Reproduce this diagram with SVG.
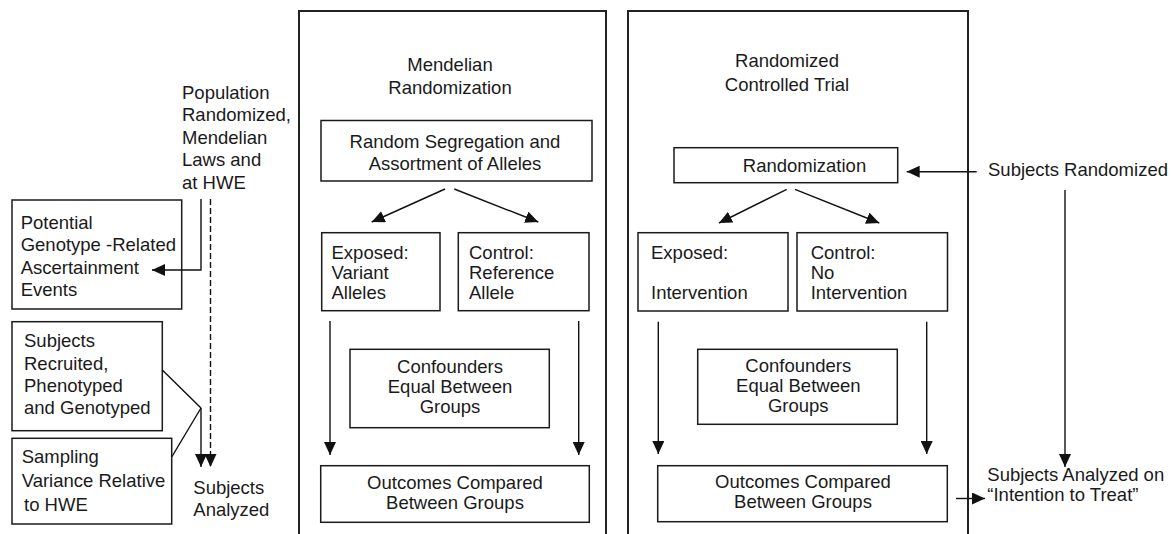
<svg xmlns="http://www.w3.org/2000/svg" width="1171" height="534" viewBox="0 0 1171 534">
<defs>
<style>
.panel{fill:none;stroke:#222;stroke-width:2}
.box{fill:#fff;stroke:#1a1a1a;stroke-width:1.5}
.t{font-family:"Liberation Sans",Arial,sans-serif;font-size:18.5px;fill:#1a1a1a}
.c{text-anchor:middle}
.ln{fill:none;stroke:#111;stroke-width:1.4}
.dash{stroke-dasharray:6 3}
</style>
<marker id="ah" markerWidth="13" markerHeight="12" refX="13" refY="6" orient="auto" markerUnits="userSpaceOnUse">
<path d="M0,0 L13,6 L0,12 z" fill="#111"/>
</marker>
</defs>
<rect width="1171" height="534" fill="#fff"/>

<g id="panel-mr">
<rect class="panel" x="299" y="11" width="307" height="540"/>
<text class="t c" x="450" y="71">Mendelian</text>
<text class="t c" x="450" y="94">Randomization</text>
</g>
<g id="panel-rct">
<rect class="panel" x="628" y="11" width="340" height="540"/>
<text class="t c" x="787" y="67">Randomized</text>
<text class="t c" x="787" y="91">Controlled Trial</text>
</g>

<g id="population-label">
<text class="t" x="182" y="98.5">Population</text>
<text class="t" x="182" y="121">Randomized,</text>
<text class="t" x="182" y="143.5">Mendelian</text>
<text class="t" x="182" y="166">Laws and</text>
<text class="t" x="182" y="188.5">at HWE</text>
</g>

<g id="potential-events">
<rect class="box" x="12" y="200" width="169.7" height="109"/>
<text class="t" x="20.7" y="228.5">Potential</text>
<text class="t" x="20.7" y="251">Genotype -Related</text>
<text class="t" x="20.7" y="273.5">Ascertainment</text>
<text class="t" x="20.7" y="296">Events</text>
</g>

<g id="subjects-recruited">
<rect class="box" x="12" y="321.7" width="150.3" height="109"/>
<text class="t" x="24" y="347">Subjects</text>
<text class="t" x="24" y="369.5">Recruited,</text>
<text class="t" x="24" y="392">Phenotyped</text>
<text class="t" x="24" y="414">and Genotyped</text>
</g>

<g id="sampling-variance">
<rect class="box" x="12" y="438.3" width="159.7" height="85.7"/>
<text class="t" x="21.7" y="463.3">Sampling</text>
<text class="t" x="21.7" y="486.7">Variance Relative</text>
<text class="t" x="24" y="510.7">to HWE</text>
</g>

<g id="subjects-analyzed">
<text class="t" x="193.3" y="494">Subjects</text>
<text class="t" x="193.3" y="515.7">Analyzed</text>
</g>

<g id="mr-random-segregation">
<rect class="box" x="321" y="120.5" width="271" height="60.5"/>
<text class="t c" x="455" y="148">Random Segregation and</text>
<text class="t c" x="455" y="170">Assortment of Alleles</text>
</g>
<g id="mr-exposed">
<rect class="box" x="321.7" y="232.7" width="118.3" height="78"/>
<text class="t" x="331.5" y="258.5">Exposed:</text>
<text class="t" x="331.5" y="278.5">Variant</text>
<text class="t" x="331.5" y="298.5">Alleles</text>
</g>
<g id="mr-control">
<rect class="box" x="458.3" y="232.7" width="130.7" height="78"/>
<text class="t" x="469" y="258.5">Control:</text>
<text class="t" x="469" y="278.5">Reference</text>
<text class="t" x="469" y="298.5">Allele</text>
</g>
<g id="mr-confounders">
<rect class="box" x="350" y="349.3" width="199.3" height="78.4"/>
<text class="t c" x="450" y="373">Confounders</text>
<text class="t c" x="450" y="393">Equal Between</text>
<text class="t c" x="450" y="413">Groups</text>
</g>
<g id="mr-outcomes">
<rect class="box" x="320.7" y="465.7" width="268.6" height="56.6"/>
<text class="t c" x="455" y="489">Outcomes Compared</text>
<text class="t c" x="455" y="509">Between Groups</text>
</g>

<g id="rct-randomization">
<rect class="box" x="674" y="147.7" width="223.7" height="35"/>
<text class="t c" x="804.5" y="171.7">Randomization</text>
</g>
<g id="rct-exposed">
<rect class="box" x="638" y="232.7" width="150" height="78.3"/>
<text class="t" x="651" y="258.5">Exposed:</text>
<text class="t" x="651" y="298.5">Intervention</text>
</g>
<g id="rct-control">
<rect class="box" x="797" y="232.7" width="150.5" height="78.3"/>
<text class="t" x="810.7" y="258.5">Control:</text>
<text class="t" x="810.7" y="278.5">No</text>
<text class="t" x="810.7" y="298.5">Intervention</text>
</g>
<g id="rct-confounders">
<rect class="box" x="697.7" y="349.3" width="199.6" height="75"/>
<text class="t c" x="798.3" y="372">Confounders</text>
<text class="t c" x="798.3" y="392">Equal Between</text>
<text class="t c" x="798.3" y="412">Groups</text>
</g>
<g id="rct-outcomes">
<rect class="box" x="657.7" y="465.7" width="289.6" height="56"/>
<text class="t c" x="803" y="488">Outcomes Compared</text>
<text class="t c" x="803" y="508">Between Groups</text>
</g>

<g id="subjects-randomized">
<text class="t" x="988" y="175.5">Subjects Randomized</text>
</g>
<g id="subjects-itt">
<text class="t" x="987.3" y="480.7">Subjects Analyzed on</text>
<text class="t" x="987.3" y="501">“Intention to Treat”</text>
</g>

<g id="connectors">
<path class="ln" d="M201,199 V270 H152" marker-end="url(#ah)"/>
<path class="ln dash" d="M210.5,199 V467" marker-end="url(#ah)"/>
<path class="ln" d="M162.3,370 L201,408 M171.7,457 L201,408"/>
<path class="ln" d="M201,408 V467" marker-end="url(#ah)"/>

<path class="ln" d="M445,189 L371.7,222" marker-end="url(#ah)"/>
<path class="ln" d="M454.3,189 L538.3,222" marker-end="url(#ah)"/>
<path class="ln" d="M330,321 V455" marker-end="url(#ah)"/>
<path class="ln" d="M578.7,321 V455" marker-end="url(#ah)"/>

<path class="ln" d="M976.7,171.7 H906.7" marker-end="url(#ah)"/>
<path class="ln" d="M786.7,189.3 L719,223" marker-end="url(#ah)"/>
<path class="ln" d="M795,189.3 L879.3,223" marker-end="url(#ah)"/>
<path class="ln" d="M658.3,321.7 V454" marker-end="url(#ah)"/>
<path class="ln" d="M926.7,321.7 V454" marker-end="url(#ah)"/>
<path class="ln" d="M956,498.5 H985" marker-end="url(#ah)"/>
<path class="ln" d="M1065,190 V467" marker-end="url(#ah)"/>
</g>
</svg>
